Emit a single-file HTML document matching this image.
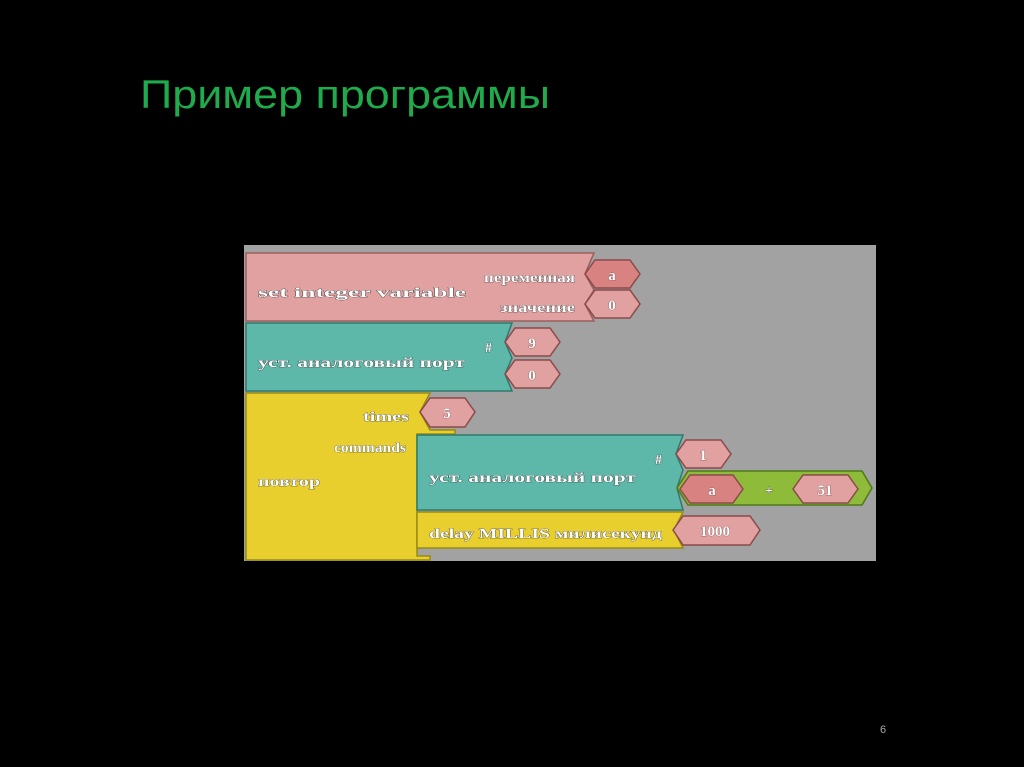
<!DOCTYPE html>
<html><head><meta charset="utf-8"><style>
html,body{margin:0;padding:0;background:#000;}
svg{display:block}
.t{font-family:"Liberation Serif",serif;font-weight:bold;font-size:14px;fill:#fff;stroke:#333;stroke-width:0.6px;paint-order:stroke}
.n{font-family:"Liberation Serif",serif;font-weight:bold;font-size:15px;fill:#fff;stroke:#6a3a3a;stroke-width:0.6px;paint-order:stroke}
</style></head><body>
<svg width="1024" height="767" viewBox="0 0 1024 767" xmlns="http://www.w3.org/2000/svg">
<rect width="1024" height="767" fill="#000"/>
<text x="140" y="108" font-family="Liberation Sans, sans-serif" font-size="40" fill="#1faa4c" textLength="410" lengthAdjust="spacingAndGlyphs">Пример программы</text>
<text x="880" y="733" font-family="Liberation Sans, sans-serif" font-size="11" fill="#aaa">6</text>
<rect x="244" y="245" width="632" height="316" fill="#a2a2a2"/>

<!-- pink set block -->
<polygon points="246,253 594,253 585,274 594,290 585,304 594,321 246,321" fill="#e0a1a0" stroke="#9a5f5e" stroke-width="1.5"/>
<text class="t" x="258" y="297" textLength="208" lengthAdjust="spacingAndGlyphs">set integer variable</text>
<text class="t" x="484" y="282" font-size="12" textLength="91" lengthAdjust="spacingAndGlyphs">переменная</text>
<text class="t" x="500" y="312" font-size="12" textLength="75" lengthAdjust="spacingAndGlyphs">значение</text>
<polygon points="585,274 595,260 630,260 640,274 630,288 595,288" fill="#d98282" stroke="#8a4a4a" stroke-width="1.5"/>
<text class="n" x="612" y="280" text-anchor="middle">a</text>
<polygon points="585,304 595,290 630,290 640,304 630,318 595,318" fill="#e0a1a0" stroke="#8a4a4a" stroke-width="1.5"/>
<text class="n" x="612" y="310" text-anchor="middle">0</text>

<!-- teal block -->
<polygon points="246,323 512,323 505,342 512,358 505,374 512,391 246,391" fill="#5db8a9" stroke="#2f7a6e" stroke-width="1.5"/>
<text class="t" x="258" y="367" textLength="207" lengthAdjust="spacingAndGlyphs">уст. аналоговый порт</text>
<text class="t" x="485" y="352">#</text>
<polygon points="505,342 515,328 550,328 560,342 550,356 515,356" fill="#e0a1a0" stroke="#8a4a4a" stroke-width="1.5"/>
<text class="n" x="532" y="348" text-anchor="middle">9</text>
<polygon points="505,374 515,360 550,360 560,374 550,388 515,388" fill="#e0a1a0" stroke="#8a4a4a" stroke-width="1.5"/>
<text class="n" x="532" y="380" text-anchor="middle">0</text>

<!-- yellow loop -->
<polygon points="246,393 430,393 420,412 430,430 455,430 455,434 417,434 417,556 430,556 430,560 246,560" fill="#e8cf2e" stroke="#9a8a10" stroke-width="1.5"/>
<text class="t" x="363" y="421" font-size="13" textLength="46" lengthAdjust="spacingAndGlyphs">times</text>
<text class="t" x="334" y="452" font-size="13" textLength="72" lengthAdjust="spacingAndGlyphs">commands</text>
<text class="t" x="258" y="486" textLength="62" lengthAdjust="spacingAndGlyphs">повтор</text>
<polygon points="420,412 430,398 465,398 475,412 465,427 430,427" fill="#e0a1a0" stroke="#8a4a4a" stroke-width="1.5"/>
<text class="n" x="447" y="418" text-anchor="middle">5</text>

<!-- inner teal -->
<polygon points="417,435 683,435 676,454 683,470 677,488 683,510 417,510" fill="#5db8a9" stroke="#2f7a6e" stroke-width="1.5"/>
<text class="t" x="429" y="482" textLength="207" lengthAdjust="spacingAndGlyphs">уст. аналоговый порт</text>
<text class="t" x="655" y="464">#</text>
<polygon points="676,454 686,440 721,440 731,454 721,468 686,468" fill="#e0a1a0" stroke="#8a4a4a" stroke-width="1.5"/>
<text class="n" x="703" y="460" text-anchor="middle">1</text>
<!-- green expr -->
<polygon points="677,488 688,471 862,471 872,488 862,505 688,505" fill="#8fbb3a" stroke="#4e7a18" stroke-width="1.5"/>
<polygon points="680,489 690,475 733,475 743,489 733,503 690,503" fill="#d98282" stroke="#8a4a4a" stroke-width="1.5"/>
<text class="n" x="712" y="495" text-anchor="middle">a</text>
<text class="t" x="765" y="495" fill="#eee">+</text>
<polygon points="793,489 803,475 848,475 858,489 848,503 803,503" fill="#e0a1a0" stroke="#8a4a4a" stroke-width="1.5"/>
<text class="n" x="825" y="495" text-anchor="middle">51</text>

<!-- delay -->
<polygon points="417,512 683,512 674,530 683,548 417,548" fill="#e8cf2e" stroke="#9a8a10" stroke-width="1.5"/>
<text class="t" x="429" y="538" textLength="233" lengthAdjust="spacingAndGlyphs">delay MILLIS милисекунд</text>
<polygon points="673,530 683,516 750,516 760,530 750,545 683,545" fill="#e0a1a0" stroke="#8a4a4a" stroke-width="1.5"/>
<text class="n" x="715" y="536" text-anchor="middle">1000</text>
</svg>
</body></html>
